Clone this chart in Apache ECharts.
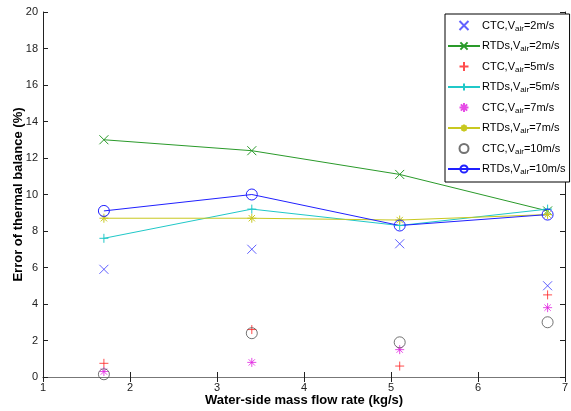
<!DOCTYPE html>
<html>
<head>
<meta charset="utf-8">
<script src="https://cdn.jsdelivr.net/npm/echarts@6/dist/echarts.min.js"></script>
<style>
html,body{margin:0;padding:0;background:#fff;}
#main{width:571px;height:411px;}
</style>
</head>
<body>
<div id="main"></div>
<script>
// flow rates (kg/s)
var flow = [1.7, 3.4, 5.1, 6.8];

var ctc2 = [5.9, 7.0, 7.3, 5.0];
var rtd2 = [13.0, 12.4, 11.1, 9.1];
var ctc5 = [0.75, 2.6, 0.6, 4.5];
var rtd5 = [7.6, 9.2, 8.3, 9.2];
var ctc7 = [0.3, 0.8, 1.5, 3.8];
var rtd7 = [8.7, 8.7, 8.6, 8.9];
var ctc10 = [0.15, 2.4, 1.9, 3.0];
var rtd10 = [9.1, 10.0, 8.3, 8.9];

var xTicks = [1, 2, 3, 4, 5, 6, 7];
var yTicks = [0, 2, 4, 6, 8, 10, 12, 14, 16, 18, 20];

var font = 'Arial, "Liberation Sans", sans-serif';

var xMark = 'path://M0,0L10,10M10,0L0,10';
var plusMark = 'path://M5,0L5,10M0,5L10,5';
var starMark = 'path://M5,0L5,10M0,5L10,5M1.5,1.5L8.5,8.5M8.5,1.5L1.5,8.5';

function pairs(ys){
	return flow.map(function(x,i){return [x, ys[i]];});
}

function mk(name, ys, color, symbol, isLine){
	var circ = symbol == 'circle';
	return {
		name: name,
		type: isLine ? 'line' : 'scatter',
		data: pairs(ys),
		symbol: symbol,
		symbolSize: circ ? 11 : 9,
		showSymbol: true,
		animation: false,
		itemStyle: {color: circ ? 'rgba(255,255,255,0)' : color, borderColor: color, borderWidth: 1},
		lineStyle: {color: color, width: 1},
		z: isLine ? 2 : 3
	};
}

var series = [
	mk('CTC,V{s|air}=2m/s', ctc2, '#3a3aff', xMark, false),
	mk('RTDs,V{s|air}=2m/s', rtd2, '#2a9a2a', xMark, true),
	mk('CTC,V{s|air}=5m/s', ctc5, '#ff2020', plusMark, false),
	mk('RTDs,V{s|air}=5m/s', rtd5, '#20c8c8', plusMark, true),
	mk('CTC,V{s|air}=7m/s', ctc7, '#e020e0', starMark, false),
	mk('RTDs,V{s|air}=7m/s', rtd7, '#c8c820', starMark, true),
	mk('CTC,V{s|air}=10m/s', ctc10, '#505050', 'circle', false),
	mk('RTDs,V{s|air}=10m/s', rtd10, '#2020ff', 'circle', true)
];

var chart = echarts.init(document.getElementById('main'));
chart.setOption({
	backgroundColor: '#fff',
	animation: false,
	grid: {left: 43, right: 6, top: 12, bottom: 34, outerBoundsMode: 'none', containLabel: false},
	legend: {
		orient: 'vertical',
		left: 445,
		top: 14,
		width: 120,
		padding: [6, 4, 6, 2],
		itemGap: 8,
		itemWidth: 32,
		itemHeight: 9,
		backgroundColor: '#fff',
		borderColor: '#000',
		borderWidth: 1,
		data: series.map(function(s){return s.name;}),
		textStyle: {
			fontFamily: font, fontSize: 11, color: '#000', padding: [0,0,0,-3],
			rich: {s: {fontFamily: font, fontSize: 8, color: '#000', padding: [6,0,0,0]}}
		}
	},
	xAxis: [{
		type: 'value', min: 1, max: 7, interval: 1,
		name: 'Water-side mass flow rate (kg/s)',
		nameLocation: 'middle', nameGap: 17, nameMoveOverlap: false,
		nameTextStyle: {fontFamily: font, fontSize: 13, fontWeight: 'bold', color: '#000'},
		axisLine: {lineStyle: {color: '#777', width: 1}},
		axisTick: {inside: true, length: 5, lineStyle: {color: '#222'}},
		axisLabel: {fontFamily: font, fontSize: 11, color: '#222', margin: 5,
			formatter: function(v){return xTicks.indexOf(v) >= 0 ? v : '';}},
		splitLine: {show: false}
	}, {
		type: 'value', min: 1, max: 7, interval: 1, position: 'top',
		axisLine: {lineStyle: {color: '#777', width: 1}},
		axisTick: {inside: true, length: 5, lineStyle: {color: '#222'}},
		axisLabel: {show: false},
		splitLine: {show: false}
	}],
	yAxis: [{
		type: 'value', min: 0, max: 20, interval: 2,
		name: 'Error of thermal balance (%)',
		nameLocation: 'middle', nameGap: 18, nameRotate: 90, nameMoveOverlap: false,
		nameTextStyle: {fontFamily: font, fontSize: 13, fontWeight: 'bold', color: '#000'},
		axisLine: {show: true, lineStyle: {color: '#222', width: 1}},
		axisTick: {show: true, inside: true, length: 5, lineStyle: {color: '#222'}},
		axisLabel: {fontFamily: font, fontSize: 11, color: '#222', margin: 5,
			formatter: function(v){return yTicks.indexOf(v) >= 0 ? v : '';}},
		splitLine: {show: false}
	}, {
		type: 'value', min: 0, max: 20, interval: 2, position: 'right',
		axisLine: {show: true, lineStyle: {color: '#222', width: 1}},
		axisTick: {show: true, inside: true, length: 5, lineStyle: {color: '#222'}},
		axisLabel: {show: false},
		splitLine: {show: false}
	}],
	series: series
});
</script>
</body>
</html>
